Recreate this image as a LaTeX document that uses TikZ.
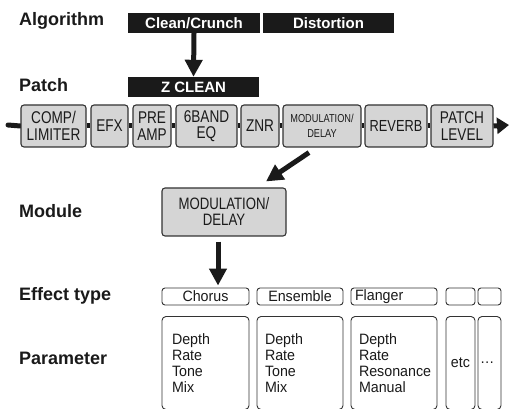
\documentclass[tikz,border=0pt]{standalone}
\usepackage{fontspec}
\setmainfont{Liberation Sans}
\newfontfamily\condfont{Liberation Sans}[FakeStretch=0.8]
\newfontfamily\parfont{Liberation Sans}[FakeStretch=0.95]
\usetikzlibrary{arrows.meta,calc}
\pgfdeclarelayer{bg}
\pgfsetlayers{bg,main}
\definecolor{boxgray}{HTML}{D5D5D5}
\definecolor{edge}{HTML}{333333}
\definecolor{ink}{HTML}{1A1A1A}
\tikzset{
  head/.style={anchor=base west, font=\fontsize{18}{20}\selectfont\bfseries, text=ink, inner sep=0pt},
  blackbox/.style={fill=ink, draw=none, text=white, font=\fontsize{15}{16}\selectfont\bfseries,
    minimum height=20pt, inner sep=0pt},
  patchbox/.style={fill=boxgray, draw=edge, line width=1.1pt, rounded corners=3pt,
    minimum height=42pt, inner sep=0pt, align=center,
    font=\condfont\fontsize{17}{16.5}\selectfont, text=ink},
  effbox/.style={fill=white, draw=edge, line width=0.9pt, rounded corners=3pt,
    minimum height=17pt, inner sep=0pt, font=\parfont\fontsize{15}{16}\selectfont, text=ink},
  parbox/.style={fill=white, draw=edge, line width=0.9pt, rounded corners=4pt,
    minimum height=93pt, inner ysep=0pt, align=left,
    font=\parfont\fontsize{15}{16}\selectfont, text=ink},
  conn/.style={line width=5pt, draw=ink},
  bigarrow/.style={line width=5pt, draw=ink, -{Triangle[length=17pt,width=17pt]}},
}
\begin{document}
\begin{tikzpicture}[x=1pt,y=-1pt]
\useasboundingbox (0,0) rectangle (512,409);

% row headings
\node[head] (hAlg) at (19,26) {Algorithm};
\node[head] (hPatch) at (19,92) {Patch};
\node[head] (hMod) at (19,218) {Module};
\node[head] (hEff) at (19,301) {Effect type};
\node[head] (hPar) at (19,364) {Parameter};

% algorithm / patch names
\node[blackbox, minimum width=132pt] (cc) at (194,23) {Clean/Crunch};
\node[blackbox, minimum width=131pt] (dist) at (328.5,23) {Distortion};
\node[blackbox, minimum width=131pt] (zc) at (193.5,87) {Z CLEAN};

% patch chain
\node[patchbox, minimum width=65pt] (comp) at (53.5,126) {COMP/\\LIMITER};
\node[patchbox, minimum width=37pt] (efx) at (109.5,126) {EFX};
\node[patchbox, minimum width=38pt] (pre) at (152,126) {PRE\\AMP};
\node[patchbox, minimum width=61pt] (eq) at (206.5,126) {6BAND\\EQ};
\node[patchbox, minimum width=38pt] (znr) at (260,126) {ZNR};
\node[patchbox, minimum width=78pt, font=\condfont\fontsize{11.5}{15}\selectfont] (pmod) at (322,126) {MODULATION/\\DELAY};
\node[patchbox, minimum width=62pt, font=\condfont\fontsize{16}{15}\selectfont] (rev) at (396,126) {REVERB};
\node[patchbox, minimum width=62pt] (lev) at (462,126) {PATCH\\LEVEL};
\coordinate (chainin) at (8,125);
\coordinate (chainout) at (509,125);

% module
\node[patchbox, minimum width=124pt, minimum height=48pt, font=\condfont\fontsize{16.5}{16}\selectfont] (mod) at (224,212) {MODULATION/\\DELAY};

% effect types
\node[effbox, minimum width=87pt] (chorus) at (205.5,296.5) {Chorus};
\node[effbox, minimum width=86pt] (ens) at (300,296.5) {Ensemble};
\node[effbox, minimum width=86pt, text width=78pt, inner xsep=4pt, align=left] (flg) at (394,296.5) {Flanger};
\node[effbox, minimum width=29pt] (e1) at (460.5,296.5) {};
\node[effbox, minimum width=23pt] (e2) at (489.5,296.5) {};

% parameters
\node[parbox, text width=67pt, inner xsep=10pt] (pc) at (205.5,363) {Depth\\Rate\\Tone\\Mix};
\node[parbox, text width=70pt, inner xsep=8pt] (pe) at (300,363) {Depth\\Rate\\Tone\\Mix};
\node[parbox, text width=70pt, inner xsep=8pt] (pf) at (394,363) {Depth\\Rate\\Resonance\\Manual};
\node[parbox, minimum width=29pt, inner xsep=0pt, align=center] (p1) at (460.5,363) {etc};
\node[parbox, minimum width=23pt, text width=19pt, inner xsep=2pt] (p2) at (489.5,363) {\dots};

% connectors
\begin{pgfonlayer}{bg}
\draw[conn, line cap=round] (chainin) -- (comp.west);
\draw[conn] (comp.east) -- (efx.west);
\draw[conn] (efx.east) -- (pre.west);
\draw[conn] (pre.east) -- (eq.west);
\draw[conn] (eq.east) -- (znr.west);
\draw[conn] (znr.east) -- (pmod.west);
\draw[conn] (pmod.east) -- (rev.west);
\draw[conn] (rev.east) -- (lev.west);
\end{pgfonlayer}
\draw[conn, -{Triangle[length=12pt,width=16pt]}] (lev.east) -- (chainout);

\draw[bigarrow] (cc.south) -- (zc.north);
\draw[bigarrow] ($(pmod.south)+(-13,5)$) -- ($(mod.north)+(42,-6)$);
\draw[bigarrow] ($(mod.south)+(-6,5)$) -- ($(chorus.north)+(12.5,-2)$);
\end{tikzpicture}
\end{document}
